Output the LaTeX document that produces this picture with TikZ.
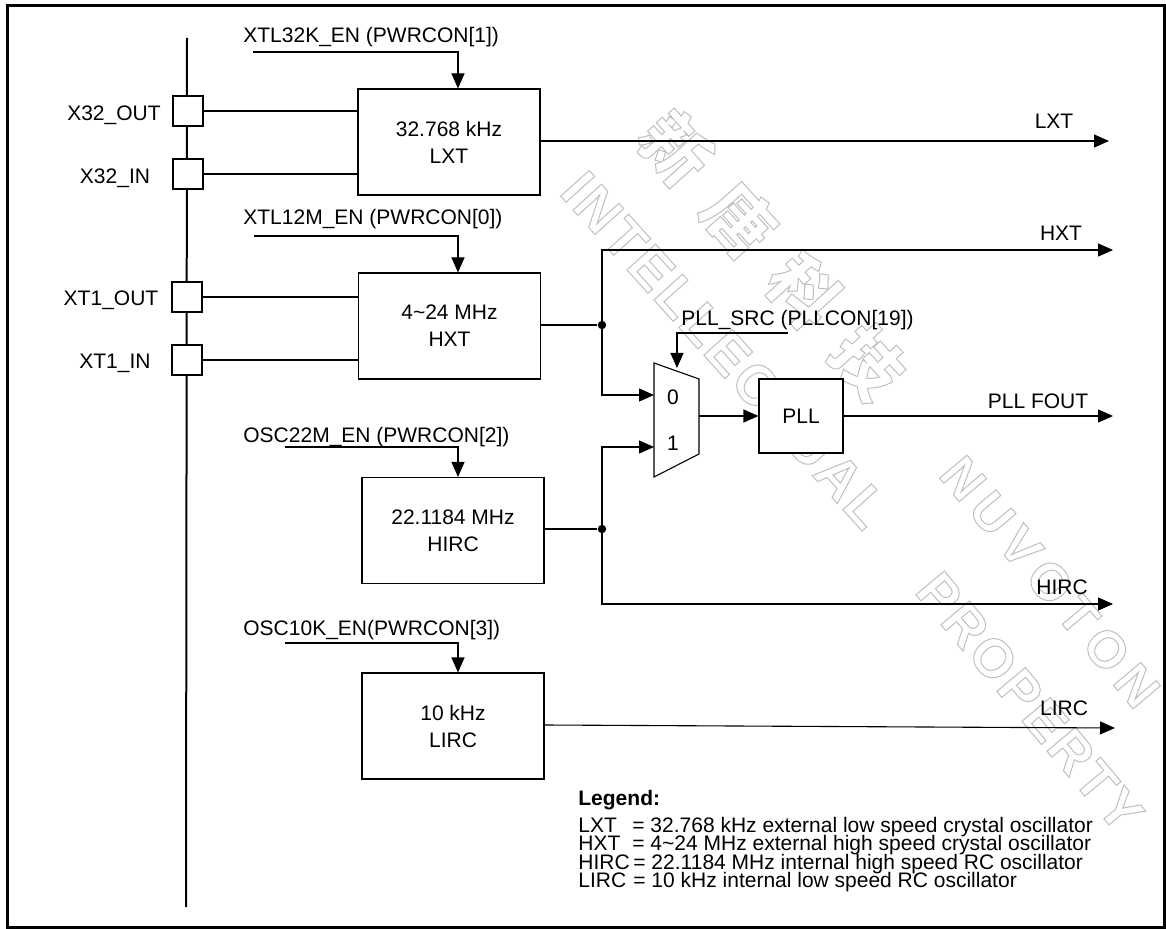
\documentclass[tikz,border=0pt]{standalone}
\usepackage{fontspec}
\setmainfont{Liberation Sans}
\newfontfamily\cjk{Noto Sans CJK SC}
\usetikzlibrary{arrows.meta,calc}
\newcommand{\outlineon}{\special{pdf:literal direct 1 Tr 0.5 w}}
\newcommand{\outlineoff}{\special{pdf:literal direct 0 Tr}}
\begin{document}
\begin{tikzpicture}[x=0.5pt,y=-0.5pt,
  every node/.style={font=\fontsize{10.5}{13.5}\selectfont, inner sep=0pt},
  blk/.style={draw, line width=0.55pt, minimum width=91pt, minimum height=53pt, align=center},
  pllbox/.style={draw, line width=0.55pt, minimum width=42pt, minimum height=37pt},
  pad/.style={draw, line width=0.55pt, fill=white, minimum width=15pt, minimum height=15pt},
  wire/.style={line width=0.55pt},
  arr/.style={wire, -{Triangle[length=7.5pt,width=6.5pt]}},
  jdot/.style={circle, fill=black, inner sep=0pt, minimum size=4.2pt},
  lbl/.style={anchor=base west},
  cbl/.style={anchor=base},
  wm/.style={text=black!25, rotate=-48}]
\useasboundingbox (0,0) rectangle (1166,929);

% watermark
\begin{scope}
\clip (7,6) rectangle (1164.5,927);
\node[wm, font=\cjk\bfseries\fontsize{34}{34}\selectfont] (wmA) at (772,255)
  {\outlineon 新\hspace{14pt}唐\hspace{14pt}科\hspace{14pt}技\outlineoff};
\node[wm, rotate=-2, font=\bfseries\fontsize{26}{26}\selectfont] (wmB) at (1050,582)
  {\outlineon N\hspace{4pt}U\hspace{4pt}V\hspace{4pt}O\hspace{4pt}T\hspace{4pt}O\hspace{4pt}N\outlineoff};
\node[wm, font=\bfseries\fontsize{28}{28}\selectfont] (wmC) at (725,350)
  {\outlineon I\hspace{1.5pt}N\hspace{1.5pt}T\hspace{1.5pt}E\hspace{1.5pt}L\hspace{1.5pt}L\hspace{1.5pt}E\hspace{1.5pt}C\hspace{1.5pt}T\hspace{1.5pt}U\hspace{1.5pt}A\hspace{1.5pt}L\outlineoff};
\node[wm, rotate=-2, font=\bfseries\fontsize{27}{27}\selectfont] (wmD) at (1030,702)
  {\outlineon P\hspace{1.5pt}R\hspace{1.5pt}O\hspace{1.5pt}P\hspace{1.5pt}E\hspace{1.5pt}R\hspace{1.5pt}T\hspace{1.5pt}Y\outlineoff};
\end{scope}

\draw[line width=1.5pt] (7,6) rectangle (1164.5,927);

% bus
\coordinate (bustop) at (187,38);
\coordinate (busbot) at (186,907);
\draw[line width=1pt] (bustop) -- (busbot);

% pads
\node[pad] (p1) at (188,111) {};
\node[pad] (p2) at (188,174) {};
\node[pad] (p3) at (187,297) {};
\node[pad] (p4) at (187,360) {};
\node[cbl] (l1) at (114,120.5) {X32\_OUT};
\node[cbl] (l2) at (115,184) {X32\_IN};
\node[cbl] (l3) at (111,306) {XT1\_OUT};
\node[cbl] (l4) at (115,369) {XT1\_IN};

% oscillator blocks
\node[blk, fill=white] (lxt)  at (449,142)   {32.768 kHz\\LXT};
\node[blk, fill=white] (hxt)  at (449.5,326) {4\textasciitilde 24 MHz\\HXT};
\node[blk, fill=white] (hirc) at (453,530.5) {22.1184 MHz\\HIRC};
\node[blk, fill=white] (lirc) at (453,726)   {10 kHz\\LIRC};

\draw[wire] (p1.east) -- (p1.east -| lxt.west);
\draw[wire] (p2.east) -- (p2.east -| lxt.west);
\draw[wire] (p3.east) -- (p3.east -| hxt.west);
\draw[wire] (p4.east) -- (p4.east -| hxt.west);

% enable controls
\node[lbl] (e1) at (243,42.5)  {XTL32K\_EN (PWRCON[1])};
\node[lbl] (e2) at (243,224.5) {XTL12M\_EN (PWRCON[0])};
\node[lbl] (e3) at (243,442.5) {OSC22M\_EN (PWRCON[2])};
\node[lbl] (e4) at (243,635.5) {OSC10K\_EN(PWRCON[3])};
\coordinate (c1s) at (253,52);  \coordinate (c1) at (458,52);
\coordinate (c2s) at (254,236); \coordinate (c2) at (458,236);
\coordinate (c3s) at (285,447); \coordinate (c3) at (458,447);
\coordinate (c4s) at (285,643); \coordinate (c4) at (458,643);
\draw[arr] (c1s) -- (c1) -- (c1 |- lxt.north);
\draw[arr] (c2s) -- (c2) -- (c2 |- hxt.north);
\draw[arr] (c3s) -- (c3) -- (c3 |- hirc.north);
\draw[arr] (c4s) -- (c4) -- (c4 |- lirc.north);

% mux
\coordinate (mTL) at (654,363);
\coordinate (mTR) at (699,379);
\coordinate (mBR) at (699,454);
\coordinate (mBL) at (654,477);
\draw[wire, fill=white] (mTL) -- (mTR) -- (mBR) -- (mBL) -- cycle;
\coordinate (m0) at (654,395);
\coordinate (m1) at (654,447);
\coordinate (mo) at (699,416);
\node[cbl] (z0) at (673,404.5) {0};
\node[cbl] (z1) at (673,450.5) {1};

% PLL
\node[pllbox, fill=white] (pll) at (801,416) {PLL};
\draw[arr] (mo) -- (pll.west);

% PLL source select
\node[lbl] (ps) at (681,325.5) {PLL\_SRC (PLLCON[19])};
\coordinate (pss) at (788,333);
\coordinate (psc) at (677,333);
\coordinate (pst) at (677,368);
\draw[arr] (pss) -- (psc) -- (pst);

% junctions
\node[jdot] (j1) at (602,325) {};
\node[jdot] (j2) at (602,529) {};
\draw[wire] (hxt.east |- j1) -- (j1);
\draw[wire] (hirc.east |- j2) -- (j2);

% outputs
\coordinate (oLXT)  at (1109,141);
\coordinate (oHXT)  at (1113,250);
\coordinate (oPLL)  at (1113,416);
\coordinate (oHIRC) at (1113,604);
\coordinate (oLIRC) at (1115,728);
\draw[arr] (lxt.east |- oLXT) -- (oLXT);
\draw[arr] (j1.center) |- (oHXT);
\draw[arr] (j1.center) |- (m0);
\draw[arr] (j2.center) |- (m1);
\draw[arr] (j2.center) |- (oHIRC);
\draw[arr] (pll.east) -- (oPLL);
\draw[arr] (lirc.east |- 0,725) -- (oLIRC);

\node[cbl] (tLXT)  at (1054,128.5) {LXT};
\node[cbl] (tHXT)  at (1061,240.5) {HXT};
\node[cbl] (tPLL)  at (1038,408.5) {PLL FOUT};
\node[cbl] (tHIRC) at (1062,594.5) {HIRC};
\node[cbl] (tLIRC) at (1064,715.5) {LIRC};

% legend
\node[lbl] (lg) at (578,805.5) {\bfseries Legend:};
\node[lbl] (a1) at (578,832.5) {LXT};
\node[lbl] (a2) at (578,850.5) {HXT};
\node[lbl] (a3) at (578,869.5) {HIRC};
\node[lbl] (a4) at (578,887.5) {LIRC};
\node[lbl] (d1) at (632,832.5) {= 32.768 kHz external low speed crystal oscillator};
\node[lbl] (d2) at (632,850.5) {= 4\textasciitilde 24 MHz external high speed crystal oscillator};
\node[lbl] (d3) at (633,869.5) {= 22.1184 MHz internal high speed RC oscillator};
\node[lbl] (d4) at (633,887.5) {= 10 kHz internal low speed RC oscillator};
\end{tikzpicture}
\end{document}
